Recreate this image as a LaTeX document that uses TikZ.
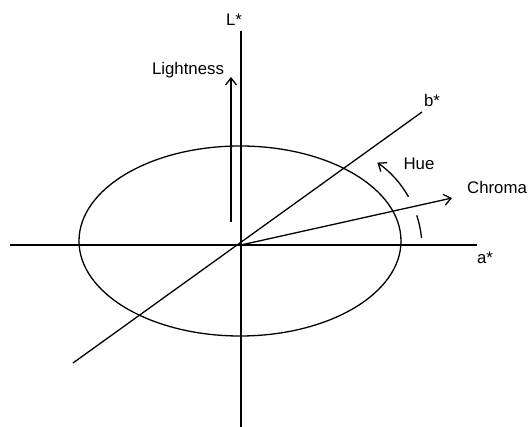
\documentclass[tikz,border=0pt]{standalone}
\usepackage{fontspec}
\setmainfont{Liberation Sans}
\usetikzlibrary{arrows.meta}
\begin{document}
\begin{tikzpicture}[x=1pt,y=-1pt,
  line/.style={line width=1.3pt,black},
  barb/.style={-{Straight Barb[length=7pt,width=11pt,line width=1.3pt]}},
  lbl/.style={font=\fontsize{16.8}{19}\selectfont,inner sep=0pt}]
\useasboundingbox (0,0) rectangle (532,427);
\coordinate (O) at (241,245);
\coordinate (Ltop) at (241,31);
\coordinate (Lbot) at (241,427);
\coordinate (aL) at (10,245);
\coordinate (aR) at (477,245);
\coordinate (bL) at (73,363);
\coordinate (bR) at (422,112);
\coordinate (LiB) at (231,222);
\coordinate (LiT) at (231,77);
\coordinate (Ch) at (452,198);
\draw[line] (Ltop) -- (Lbot);
\draw[line] (aL) -- (aR);
\draw[line] (bL) -- (bR);
\draw[line] (240,241) ellipse [x radius=161, y radius=95];
\draw[line,barb] (LiB) -- (LiT);
\draw[line,barb] (O) -- (Ch);
\coordinate (HC) at (318,248);
\draw[line] ([shift={(HC)}]-5.6:104) arc[start angle=-5.6, end angle=-18.3, radius=104];
\draw[line,barb] ([shift={(HC)}]-29.5:104) arc[start angle=-29.5, end angle=-55.2, radius=104];
\node[lbl] (Llab) at (234,20) {L*};
\node[lbl] (alab) at (485,258) {a*};
\node[lbl] (blab) at (432,100) {b*};
\node[lbl] (Lightlab) at (188,70) {Lightness};
\node[lbl] (Huelab) at (419,164) {Hue};
\node[lbl] (Chlab) at (497,187) {Chroma};
\end{tikzpicture}
\end{document}
